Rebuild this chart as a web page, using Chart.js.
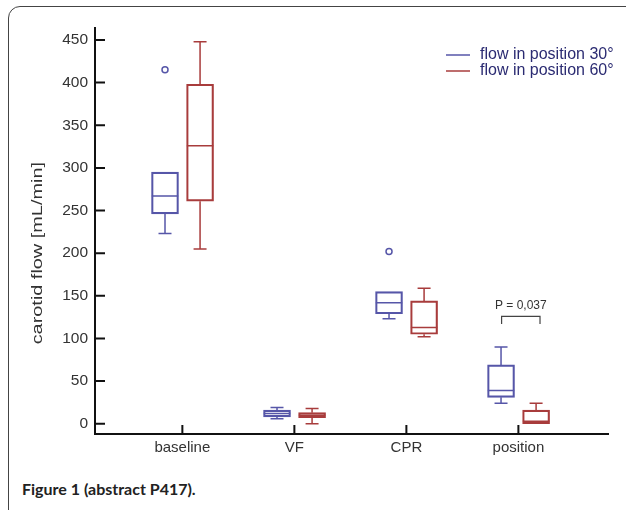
<!DOCTYPE html>
<html lang="en">
<head>
    <meta charset="UTF-8">
    <title>Carotid flow</title>
    <script src="https://cdn.jsdelivr.net/npm/chart.js@4.4.0/dist/chart.umd.min.js"></script>
    <style>
        body {
            margin: 0;
            width: 626px;
            height: 510px;
            overflow: hidden;
            background: #fff;
            position: relative;
        }
        .frame {
            position: absolute;
            left: 8px;
            top: 6px;
            width: 660px;
            height: 540px;
            border: 1.5px solid #444;
            border-radius: 12px;
            box-sizing: border-box;
        }
        .chart-box {
            position: absolute;
            left: 0;
            top: 0;
            width: 626px;
            height: 470px;
        }
        .caption {
            position: absolute;
            left: 22px;
            top: 479px;
            font-family: 'Lato', 'Open Sans', sans-serif;
            font-weight: bold;
            font-size: 16px;
            color: #222;
        }
    </style>
</head>
<body>
    <div class="frame"></div>
    <div class="chart-box">
        <canvas id="flowChart" width="626" height="470"></canvas>
    </div>
    <div class="caption">Figure 1 (abstract P417).</div>

    <script>
        // categories on the x axis
        const categories = ['baseline', 'VF', 'CPR', 'position'];
        const seriesNames = ['flow in position 30°', 'flow in position 60°'];
        // box stats per category: [min, q1, median, q3, max]
        const flow30 = [
            [223, 246, 267, 295, 295],
            [6, 8, 12, 16, 19],
            [123, 129, 142, 155, 155],
            [24, 31, 39, 69, 90]
        ];
        const flow60 = [
            [205, 261, 326, 398, 448],
            [0, 7, 10, 13, 18],
            [102, 105, 113, 144, 159],
            [0, 0, 3, 16, 24]
        ];
        // outliers (category index, value)
        const outliers30 = [[0, 415], [2, 202]];
        const outliers60 = [];
        const yTicks = [0, 50, 100, 150, 200, 250, 300, 350, 400, 450];
        const yTitle = 'carotid flow [mL/min]';
        // significance bracket over "position"
        const pLabel = 'P = 0,037';
        const pBracket = { cat: 3, top: 126, leg: 117 };

        const colors = ['#5656a8', '#a83c3c'];
        const shift = [-0.155, 0.158];
        const capHalf = 0.058;
        const FONT = "'Liberation Sans', Arial, sans-serif";

        Chart.defaults.font.family = FONT;
        Chart.defaults.font.size = 15;
        Chart.defaults.color = '#333';

        function boxData(stats, s) {
            return stats.map((d, i) => ({ x: i + 1 + shift[s], y: [d[1], d[3]] }));
        }

        // whiskers, caps and medians
        const boxExtras = {
            id: 'boxExtras',
            afterDatasetsDraw(chart) {
                const { ctx, scales: { x, y } } = chart;
                ctx.save();
                ctx.lineWidth = 1.5;
                [flow30, flow60].forEach((stats, s) => {
                    ctx.strokeStyle = colors[s];
                    stats.forEach((d, i) => {
                        const c = i + 1 + shift[s];
                        const cx = x.getPixelForValue(c);
                        const x0 = x.getPixelForValue(c - capHalf);
                        const x1 = x.getPixelForValue(c + capHalf);
                        const bx0 = x.getPixelForValue(c - 0.118);
                        const bx1 = x.getPixelForValue(c + 0.118);
                        ctx.beginPath();
                        // lower whisker
                        if (d[0] < d[1]) {
                            ctx.moveTo(cx, y.getPixelForValue(d[1]));
                            ctx.lineTo(cx, y.getPixelForValue(d[0]));
                            ctx.moveTo(x0, y.getPixelForValue(d[0]));
                            ctx.lineTo(x1, y.getPixelForValue(d[0]));
                        }
                        // upper whisker
                        if (d[4] > d[3]) {
                            ctx.moveTo(cx, y.getPixelForValue(d[3]));
                            ctx.lineTo(cx, y.getPixelForValue(d[4]));
                            ctx.moveTo(x0, y.getPixelForValue(d[4]));
                            ctx.lineTo(x1, y.getPixelForValue(d[4]));
                        }
                        // median
                        ctx.moveTo(bx0, y.getPixelForValue(d[2]));
                        ctx.lineTo(bx1, y.getPixelForValue(d[2]));
                        ctx.stroke();
                    });
                });

                // bracket and p value
                const bl = x.getPixelForValue(pBracket.cat + 1 + shift[0] + 0.005);
                const br = x.getPixelForValue(pBracket.cat + 1 + shift[1] + 0.035);
                const bt = y.getPixelForValue(pBracket.top);
                const bb = y.getPixelForValue(pBracket.leg);
                ctx.strokeStyle = '#444';
                ctx.lineWidth = 1.2;
                ctx.beginPath();
                ctx.moveTo(bl, bb);
                ctx.lineTo(bl, bt);
                ctx.lineTo(br, bt);
                ctx.lineTo(br, bb);
                ctx.stroke();
                ctx.fillStyle = '#333';
                ctx.font = '12px ' + FONT;
                ctx.textAlign = 'center';
                ctx.textBaseline = 'middle';
                ctx.fillText(pLabel, (bl + br) / 2, bt - 11);
                ctx.restore();
            }
        };

        // inward tick marks and the stretched y title
        const innerTicks = {
            id: 'innerTicks',
            afterDraw(chart) {
                const { ctx, chartArea, scales: { x, y } } = chart;
                ctx.save();
                ctx.strokeStyle = '#111';
                ctx.lineWidth = 2;
                ctx.beginPath();
                y.ticks.forEach(t => {
                    const py = y.getPixelForValue(t.value);
                    ctx.moveTo(chartArea.left, py);
                    ctx.lineTo(chartArea.left + 10, py);
                });
                x.ticks.forEach(t => {
                    const px = x.getPixelForValue(t.value);
                    ctx.moveTo(px, chartArea.bottom);
                    ctx.lineTo(px, chartArea.bottom - 9);
                });
                ctx.stroke();

                ctx.translate(38, y.getPixelForValue(200));
                ctx.rotate(-Math.PI / 2);
                ctx.scale(1.42, 1);
                ctx.font = '14px ' + FONT;
                ctx.fillStyle = '#333';
                ctx.textAlign = 'center';
                ctx.textBaseline = 'middle';
                ctx.fillText(yTitle, 0, 0);
                ctx.restore();
            }
        };

        // legend drawn inside the plot, top right
        const lineLegend = {
            id: 'lineLegend',
            afterDraw(chart) {
                const { ctx, chartArea } = chart;
                ctx.save();
                ctx.font = '16px ' + FONT;
                ctx.textBaseline = 'middle';
                ctx.textAlign = 'left';
                seriesNames.forEach((name, s) => {
                    const ly = chartArea.top + 27 + s * 16;
                    const lx = chartArea.right - 162;
                    ctx.strokeStyle = colors[s];
                    ctx.lineWidth = 1.5;
                    ctx.beginPath();
                    ctx.moveTo(lx, ly);
                    ctx.lineTo(lx + 24, ly);
                    ctx.stroke();
                    ctx.fillStyle = '#2b2b72';
                    ctx.fillText(name, lx + 34, ly);
                });
                ctx.restore();
            }
        };

        const ctx = document.getElementById('flowChart').getContext('2d');
        new Chart(ctx, {
            type: 'bar',
            data: {
                datasets: [
                    {
                        label: seriesNames[0],
                        data: boxData(flow30, 0),
                        backgroundColor: 'rgba(255,255,255,0)',
                        borderColor: colors[0],
                        borderWidth: 1.5,
                        borderSkipped: false,
                        barThickness: 27,
                        grouped: false
                    },
                    {
                        label: seriesNames[1],
                        data: boxData(flow60, 1),
                        backgroundColor: 'rgba(255,255,255,0)',
                        borderColor: colors[1],
                        borderWidth: 1.5,
                        borderSkipped: false,
                        barThickness: 27,
                        grouped: false
                    },
                    {
                        type: 'scatter',
                        label: 'outliers 30',
                        data: outliers30.map(o => ({ x: o[0] + 1 + shift[0], y: o[1] })),
                        pointStyle: 'circle',
                        pointRadius: 3,
                        pointBorderWidth: 1.5,
                        borderColor: colors[0],
                        backgroundColor: '#fff'
                    },
                    {
                        type: 'scatter',
                        label: 'outliers 60',
                        data: outliers60.map(o => ({ x: o[0] + 1 + shift[1], y: o[1] })),
                        pointStyle: 'circle',
                        pointRadius: 3,
                        pointBorderWidth: 1.5,
                        borderColor: colors[1],
                        backgroundColor: '#fff'
                    }
                ]
            },
            options: {
                responsive: false,
                animation: false,
                layout: {
                    padding: { top: 28, right: 18, left: 0, bottom: 0 }
                },
                scales: {
                    x: {
                        type: 'linear',
                        offset: false,
                        min: 0.22,
                        max: 4.8,
                        grid: { display: false, drawTicks: false, tickLength: 0 },
                        border: { display: true, color: '#111', width: 2 },
                        afterBuildTicks: scale => {
                            scale.ticks = categories.map((c, i) => ({ value: i + 1 }));
                        },
                        afterFit: scale => { scale.height = 36; },
                        ticks: {
                            padding: 5,
                            color: '#333',
                            font: { family: FONT, size: 15 },
                            autoSkip: false,
                            maxRotation: 0,
                            callback: v => categories[v - 1]
                        }
                    },
                    y: {
                        min: -12,
                        max: 464,
                        grid: { display: false, drawTicks: false, tickLength: 0 },
                        border: { display: true, color: '#111', width: 2 },
                        afterBuildTicks: scale => {
                            scale.ticks = yTicks.map(v => ({ value: v }));
                        },
                        afterFit: scale => { scale.width = 95; },
                        ticks: {
                            padding: 7,
                            color: '#333',
                            font: { family: FONT, size: 15.5 }
                        }
                    }
                },
                plugins: {
                    legend: { display: false },
                    tooltip: { enabled: false }
                }
            },
            plugins: [boxExtras, innerTicks, lineLegend]
        });
    </script>
</body>
</html>
